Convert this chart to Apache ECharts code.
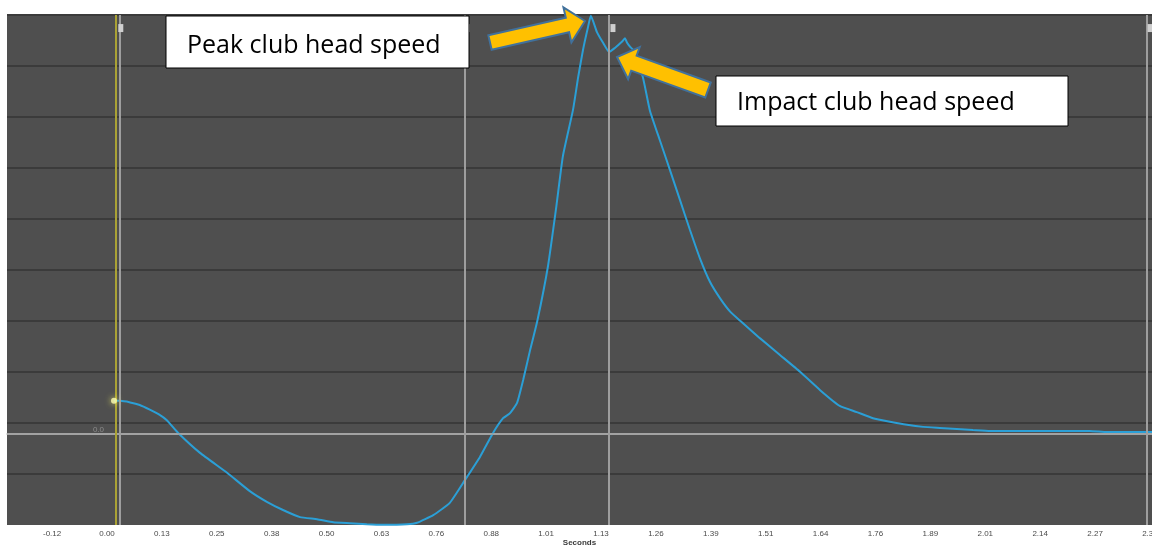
<!DOCTYPE html>
<html><head><meta charset="utf-8">
<script src="https://cdn.jsdelivr.net/npm/echarts@6/dist/echarts.min.js"></script>
<style>html,body{margin:0;padding:0;background:#fff}#c{width:1152px;height:546px}</style>
</head><body><div id="c"></div>
<script>
// time (s) of each sampled point on the curve
const times = [0.016,0.030,0.053,0.075,0.098,0.118,0.137,0.163,0.213,0.275,0.327,0.366,0.403,
  0.442,0.481,0.518,0.556,0.595,0.632,0.687,0.710,0.747,0.785,
  0.820,0.854,0.884,0.907,0.923,0.939,0.953,0.969,0.985,1.010,
  1.028,1.044,1.067,1.079,1.090,1.101,1.108,1.122,1.136,1.150,
  1.163,1.179,1.186,1.191,1.198,1.205,1.227,1.243,1.266,1.289,
  1.312,1.335,1.358,1.381,1.404,1.427,1.450,1.495,1.541,1.587,
  1.633,1.678,1.717,1.754,1.793,1.832,1.869,1.907,1.946,1.983,
  2.022,2.098,2.136,2.182,2.251,2.290,2.365,2.393];
// club head speed (relative units, 0.0 = zero line)
const speeds = [6.5,6.5,6.2,5.7,4.8,3.9,2.7,0.2,-3.7,-7.6,-11.2,-13.3,-14.9,
  -16.3,-16.7,-17.3,-17.5,-17.7,-17.8,-17.7,-17.4,-15.9,-13.5,
  -9.0,-4.5,0.2,3.1,4.1,6.1,10.6,16.5,22.0,33.0,
  44.0,54.5,63.5,70.0,75.3,79.6,82.0,78.8,76.7,74.9,
  75.7,76.9,77.6,76.7,75.9,75.3,70.0,63.5,57.6,51.8,
  45.9,40.0,34.4,29.8,26.6,24.0,22.2,18.8,15.5,12.2,
  8.6,5.5,4.3,3.1,2.4,1.8,1.4,1.2,1.0,0.8,
  0.6,0.6,0.6,0.6,0.6,0.4,0.4,0.4];
const tickLabels = ['-0.12','0.00','0.13','0.25','0.38','0.50','0.63','0.76','0.88','1.01',
  '1.13','1.26','1.39','1.51','1.64','1.76','1.89','2.01','2.14','2.27','2.39'];
const tickStep = 0.1257;
const gridValues = [-7.84,2.16,12.16,22.16,32.16,42.16,52.16,62.16,72.16,82.16];
const startMarkerTime = 0.018;
const markerTimes = [0.027,0.820,1.154,2.384];
const annotationTexts = ['Peak club head speed','Impact club head speed'];

const tickValues = tickLabels.map((l,i)=> (i-1)*tickStep);
const lineData = times.map((t,i)=>[t, speeds[i]]);

function arrowPoints(tail, tip, shaftHalf, headHalf, headLen){
  const dx = tip[0]-tail[0], dy = tip[1]-tail[1];
  const L = Math.hypot(dx,dy), ux = dx/L, uy = dy/L, px = -uy, py = ux;
  const bx = tip[0]-ux*headLen, by = tip[1]-uy*headLen;
  return [
    [tail[0]+px*shaftHalf, tail[1]+py*shaftHalf],
    [bx+px*shaftHalf, by+py*shaftHalf],
    [bx+px*headHalf, by+py*headHalf],
    [tip[0], tip[1]],
    [bx-px*headHalf, by-py*headHalf],
    [bx-px*shaftHalf, by-py*shaftHalf],
    [tail[0]-px*shaftHalf, tail[1]-py*shaftHalf]
  ];
}

const chart = echarts.init(document.getElementById('c'), null, {renderer:'canvas'});
const markLines = [{yAxis:0, lineStyle:{color:'#a4a4a4', width:1.5, type:'solid'}},
  {xAxis:startMarkerTime, lineStyle:{color:'#aaa235', width:2, type:'solid'}}]
  .concat(markerTimes.map(t=>({xAxis:t, lineStyle:{color:'#9e9e9e', width:2, type:'solid'}})));

chart.setOption({
  animation:false,
  backgroundColor:'#ffffff',
  grid:{left:7, right:0, top:15, bottom:21, show:true, backgroundColor:'#4f4f4f', borderWidth:0,
    containLabel:false, outerBoundsMode:'none'},
  xAxis:{type:'value', min:-0.229, max:2.393,
    axisLine:{show:true, lineStyle:{color:'#b4b4b4', width:1.5}},
    axisTick:{show:false}, splitLine:{show:false},
    axisLabel:{customValues:tickValues, fontSize:8, color:'#4a4a4a', margin:5,
      fontFamily:'Liberation Sans', showMinLabel:true, showMaxLabel:true, hideOverlap:false,
      formatter:(v)=>tickLabels[Math.round(v/tickStep)+1]},
    name:'Seconds', nameLocation:'middle', nameGap:14, nameMoveOverlap:false,
    nameTextStyle:{fontSize:8, fontWeight:'bold', color:'#3a3a3a', fontFamily:'Liberation Sans'}},
  yAxis:{type:'value', min:-17.84, max:82.16, offset:-98,
    axisLine:{show:false},
    axisTick:{show:false, customValues:gridValues},
    splitLine:{show:true, lineStyle:{color:'#3b3b3b', width:2}},
    axisLabel:{customValues:[0], formatter:()=>'0.0', fontSize:8, color:'#8c8c8c',
      margin:1, verticalAlign:'bottom', fontFamily:'Liberation Sans'}},
  series:[
    {type:'line', data:lineData, showSymbol:false, smooth:0.15,
     lineStyle:{color:'#2b9fd6', width:2}, z:3,
     markLine:{silent:true, symbol:'none', label:{show:false}, data:markLines},
     markPoint:{silent:true, symbol:'rect', symbolSize:[5,8], symbolOffset:[2,0],
       itemStyle:{color:'#cfcfcf'}, label:{show:false},
       data:markerTimes.map(t=>({coord:[t, 79.6]}))}},
    {type:'scatter', data:[lineData[0]], symbolSize:6, z:5,
     itemStyle:{color:'#ffffb0', shadowBlur:6, shadowColor:'#ffff66'}}
  ],
  graphic:[
    {type:'rect', shape:{x:166, y:16, width:303, height:52}, style:{fill:'#fff', stroke:'#000', lineWidth:1}, z:10},
    {type:'text', x:187, y:46, style:{text:annotationTexts[0], font:'25px "Open Sans"', fill:'#000', verticalAlign:'middle'}, z:11},
    {type:'rect', shape:{x:716, y:76, width:352, height:50}, style:{fill:'#fff', stroke:'#000', lineWidth:1}, z:10},
    {type:'text', x:737, y:103, style:{text:annotationTexts[1], font:'25px "Open Sans"', fill:'#000', verticalAlign:'middle'}, z:11},
    {type:'polygon', shape:{points:arrowPoints([490,42.5],[585,21],7.5,18,18)},
     style:{fill:'#ffc000', stroke:'#41719c', lineWidth:2}, z:12},
    {type:'polygon', shape:{points:arrowPoints([708,90],[617,57],8,17,18)},
     style:{fill:'#ffc000', stroke:'#41719c', lineWidth:2}, z:12}
  ]
});
</script></body></html>
